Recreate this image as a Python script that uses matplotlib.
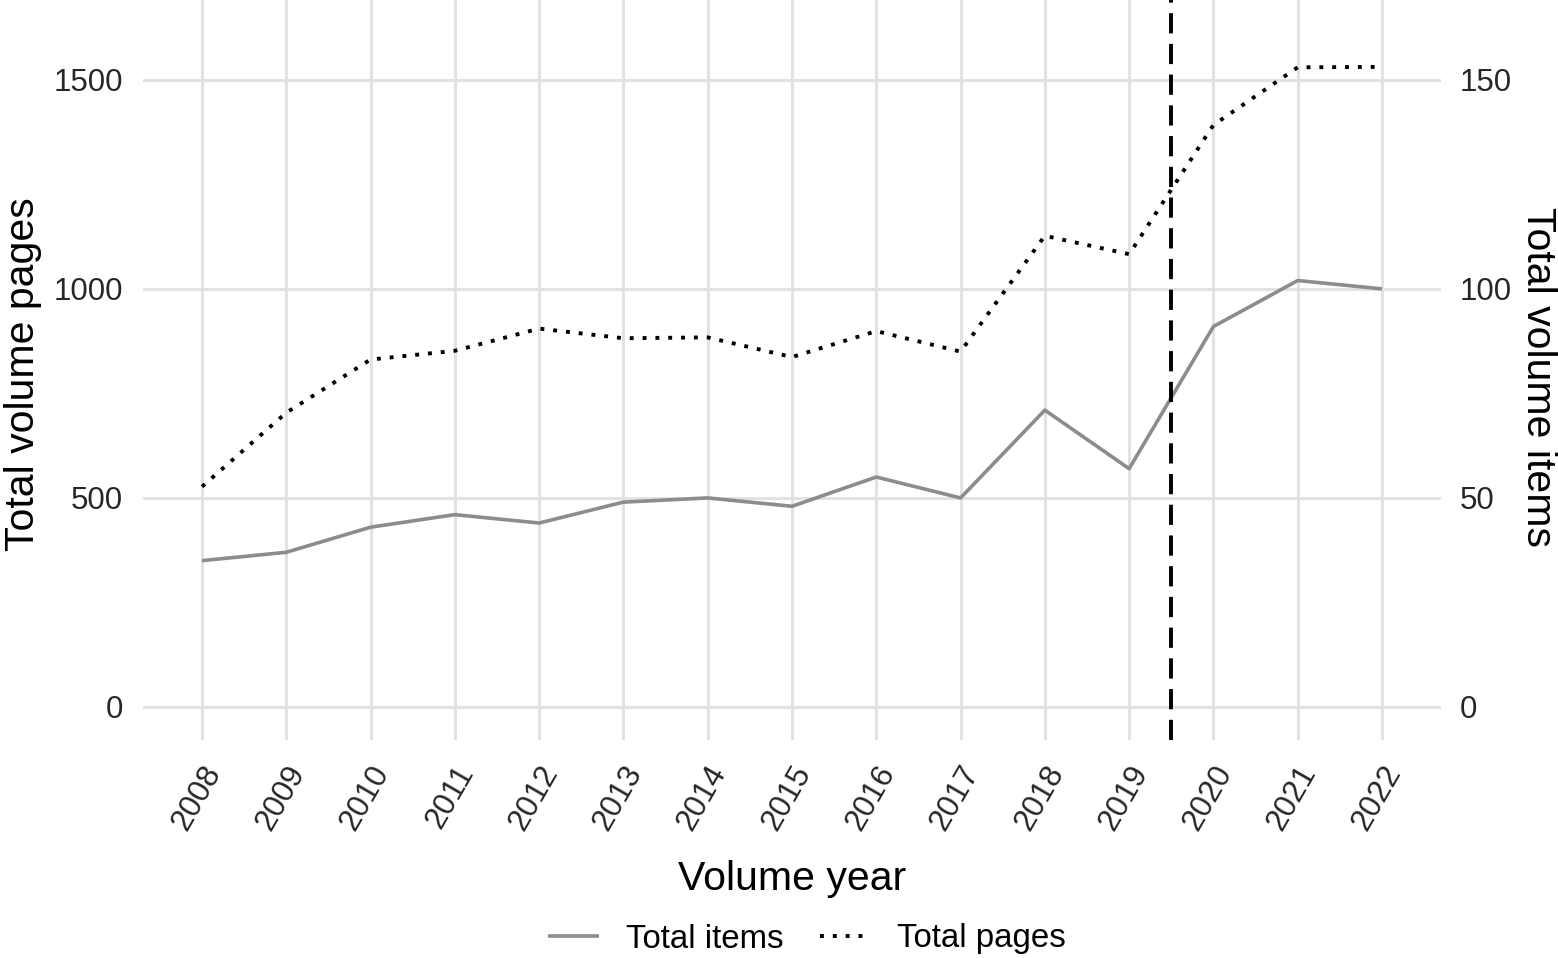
import matplotlib
matplotlib.use("Agg")
import matplotlib.pyplot as plt
import matplotlib.transforms as mtransforms

plt.rcParams['font.family'] = ['Liberation Sans', 'DejaVu Sans']

# ---- data ----
years = [2008, 2009, 2010, 2011, 2012, 2013, 2014, 2015, 2016, 2017, 2018, 2019, 2020, 2021, 2022]
total_pages = [527, 704, 831, 852, 905, 882, 884, 837, 899, 850, 1127, 1083, 1392, 1530, 1531]
total_items = [35, 37, 43, 46, 44, 49, 50, 48, 55, 50, 71, 57, 91, 102, 100]
left_ticks = [0, 500, 1000, 1500]
right_ticks = [0, 50, 100, 150]
break_year = 2019.5
series_labels = ["Total items", "Total pages"]
x_title = "Volume year"
left_title = "Total volume pages"
right_title = "Total volume items"

W, H = 1558, 958
fig = plt.figure(figsize=(W / 100, H / 100), dpi=100)
ax = fig.add_axes([143 / W, (H - 740) / H, 1298 / W, 740 / H])
ax2 = ax.twinx()

grid_c = '#e2e2e2'
tick_c = '#262626'
fs_tick = 22.5
fs_leg = 23.8
fs_title = 29.5

ylo, yhi = -79, 1691
ax.set_xlim(2007.3, 2022.7)
ax.set_ylim(ylo, yhi)
ax2.set_ylim(ylo / 10, yhi / 10)

ax.set_axisbelow(True)
ax.grid(True, color=grid_c, linewidth=2.2)

# pages (left axis) dotted
l_pages, = ax.plot(years, total_pages, color='black', linewidth=2.8,
                   linestyle=(0, (1, 2.3)), label=series_labels[1], zorder=3)
# items (right axis) solid grey
l_items, = ax2.plot(years, total_items, color='#8c8c8c', linewidth=2.6,
                    solid_capstyle='butt', label=series_labels[0], zorder=3)
ax2.axvline(break_year, color='black', linewidth=2.8, linestyle=(0, (5.2, 2.7)), zorder=4)

for a in (ax, ax2):
    for s in a.spines.values():
        s.set_visible(False)

ax.set_yticks(left_ticks)
ax.set_yticklabels([str(v) for v in left_ticks])
ax2.set_yticks(right_ticks)
ax2.set_yticklabels([str(v) for v in right_ticks])
ax.tick_params(axis='y', length=0, pad=14.4, labelsize=fs_tick, labelcolor=tick_c)
ax2.tick_params(axis='y', length=0, pad=13.7, labelsize=fs_tick, labelcolor=tick_c)

ax.set_xticks(years)
ax.set_xticklabels([str(y) for y in years])
ax.tick_params(axis='x', length=0, pad=20.0, labelsize=fs_tick, labelcolor=tick_c)
offset = mtransforms.ScaledTranslation(12 / 100, 0, fig.dpi_scale_trans)
for lab in ax.get_xticklabels():
    lab.set_rotation(60)
    lab.set_ha('right')
    lab.set_va('center')
    lab.set_rotation_mode('anchor')
    lab.set_transform(lab.get_transform() + offset)

# titles
fig.text(792 / W, 1 - 890 / H, x_title, ha='center', va='baseline', fontsize=fs_title, color='black')
fig.text(23.5 / W, 1 - 374 / H, left_title, rotation=90, ha='center', va='center',
         fontsize=fs_title, color='black')
fig.text(1538 / W, 1 - 377 / H, right_title, rotation=270, ha='center', va='center',
         fontsize=fs_title, color='black')

fig.legend(handles=[l_items, l_pages], labels=series_labels, loc='center', ncol=2,
           bbox_to_anchor=(807 / W, 1 - 939 / H), frameon=False, fontsize=fs_leg,
           handlelength=1.55, handletextpad=0.8, columnspacing=1.1, borderpad=0)

fig.savefig('out.png', dpi=100, facecolor='white')
